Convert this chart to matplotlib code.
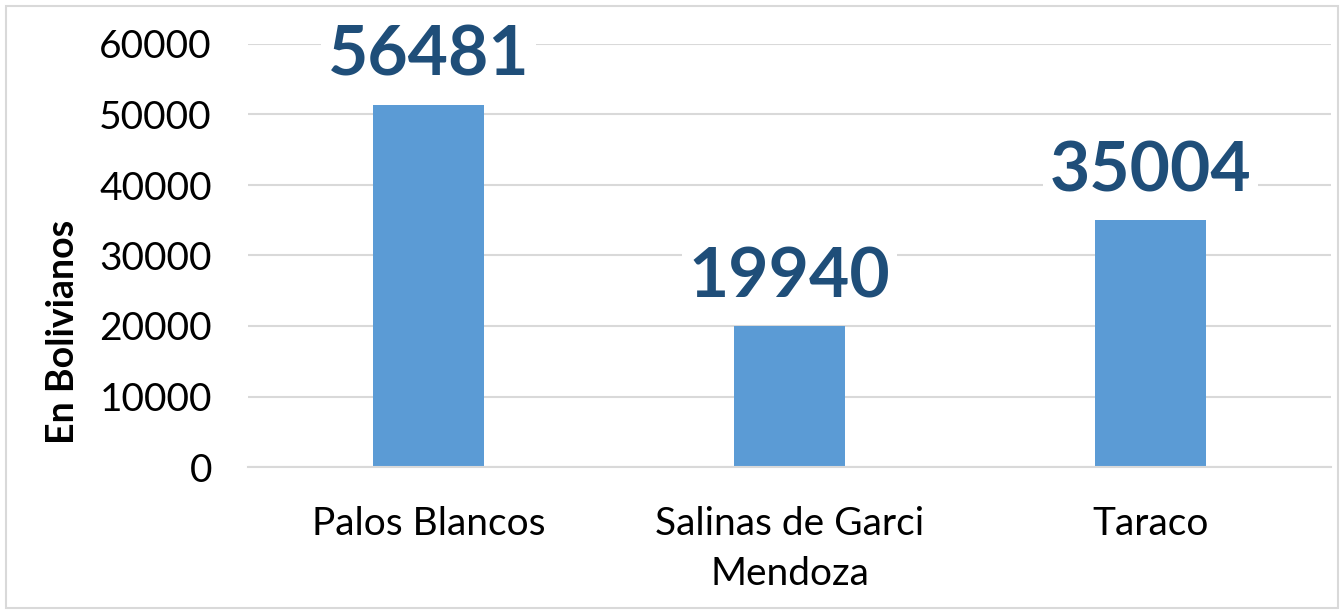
import matplotlib.pyplot as plt
from matplotlib.patches import Rectangle

# data
categories = ["Palos Blancos", "Salinas de Garci\nMendoza", "Taraco"]
bar_heights = [51400, 19940, 35004]      # drawn bar tops
value_labels = ["56481", "19940", "35004"]  # printed data labels
y_ticks = [0, 10000, 20000, 30000, 40000, 50000, 60000]

BAR_COLOR = "#5B9BD5"
LABEL_COLOR = "#1F4E79"
GRID_COLOR = "#D9D9D9"

plt.rcParams["font.family"] = ["Lato", "DejaVu Sans"]

fig = plt.figure(figsize=(13.44, 6.14), dpi=100)
ax = fig.add_axes([248 / 1344, 1 - 467 / 614, (1331 - 248) / 1344, (467 - 44) / 614])

x = range(len(categories))
ax.bar(x, bar_heights, width=0.31, color=BAR_COLOR, zorder=2)

for xi, h, lab in zip(x, bar_heights, value_labels):
    ax.annotate(lab, (xi, h), xytext=(0, 12), textcoords="offset points",
                ha="center", va="bottom", fontsize=50, fontweight="bold",
                color=LABEL_COLOR, zorder=3,
                bbox=dict(boxstyle="square,pad=0.1", fc="white", ec="none"))

ax.set_xlim(-0.5, len(categories) - 0.5)
ax.set_ylim(0, 60000)
ax.set_yticks(y_ticks)
ax.set_yticklabels([str(t) for t in y_ticks], fontsize=28)
ax.set_xticks(list(x))
ax.set_xticklabels(categories, fontsize=28, linespacing=1.5)
ax.tick_params(axis="both", length=0)
ax.tick_params(axis="x", pad=28)
ax.tick_params(axis="y", pad=26)

ax.yaxis.grid(True, color=GRID_COLOR, linewidth=1.5, zorder=0)
ax.set_axisbelow(True)
for side in ["top", "right", "left"]:
    ax.spines[side].set_visible(False)
ax.spines["bottom"].set_color(GRID_COLOR)
ax.spines["bottom"].set_linewidth(1.5)

ax.set_ylabel("En Bolivianos", fontsize=27, fontweight="bold")
ax.yaxis.set_label_coords(-0.155, 0.32)

# light frame around the whole chart
fig.patches.append(Rectangle((6 / 1344, 6 / 614), 1 - 12 / 1344, 1 - 12 / 614,
                             transform=fig.transFigure, fill=False,
                             ec=GRID_COLOR, lw=1.5))

fig.savefig("out.png", dpi=100)
